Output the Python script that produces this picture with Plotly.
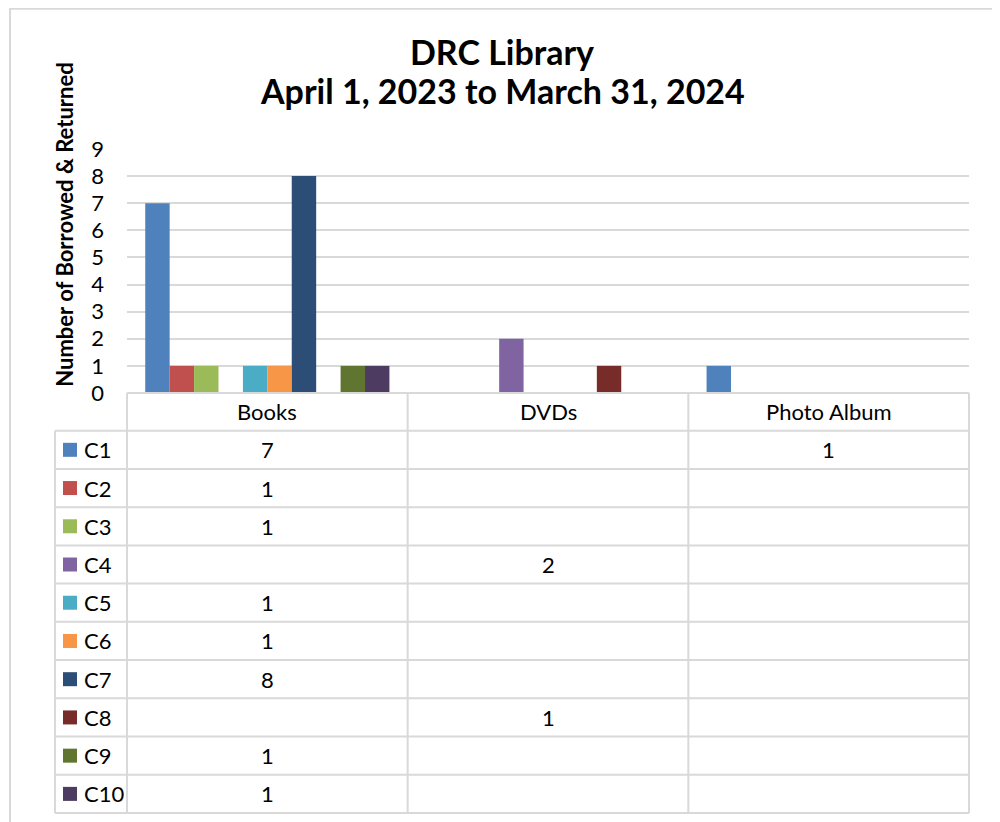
import plotly.graph_objects as go

# ---- data ----
categories = ["Books", "DVDs", "Photo Album"]
series_names = ["C1", "C2", "C3", "C4", "C5", "C6", "C7", "C8", "C9", "C10"]
C1 = [7, None, 1]
C2 = [1, None, None]
C3 = [1, None, None]
C4 = [None, 2, None]
C5 = [1, None, None]
C6 = [1, None, None]
C7 = [8, None, None]
C8 = [None, 1, None]
C9 = [1, None, None]
C10 = [1, None, None]
series_values = [C1, C2, C3, C4, C5, C6, C7, C8, C9, C10]
colors = ["#4F81BD", "#C0504D", "#9BBB59", "#8064A2", "#4BACC6",
          "#F79646", "#2C4D75", "#772C2A", "#5F7530", "#4D3B62"]
y_ticks = [0, 1, 2, 3, 4, 5, 6, 7, 8, 9]
title_lines = ["DRC Library", "April 1, 2023 to March 31, 2024"]
y_title = "Number of Borrowed & Returned"

FONT = "Lato, 'Open Sans', sans-serif"
OFF = 8                  # page body margin
W, H = 1000 - OFF, 822 - OFF
# screen-pixel geometry (converted to figure px by subtracting OFF)
L, R = 127 - OFF, 969 - OFF
T, B = 149.3 - OFF, 393.3 - OFF
GRID = "#d9d9d9"

def xp(sx):
    return (sx - OFF - L) / (R - L)

def yp(sy):
    return (B - (sy - OFF)) / (B - T)

fig = go.Figure()
for name, vals, col in zip(series_names, series_values, colors):
    fig.add_trace(go.Bar(name=name, x=categories, y=vals, marker_color=col,
                         marker_line_width=0))

shapes = []
annotations = []

# outer chart border
shapes.append(dict(type="rect", xref="paper", yref="paper",
                   x0=xp(10), x1=xp(995), y0=yp(840), y1=yp(9),
                   line=dict(color=GRID, width=2), layer="below"))

# data table geometry (screen px)
SL, SR, SB = 127, 969, 393.3
col_edges = [SL + i * (SR - SL) / 3 for i in range(4)]
header_top, header_bot = SB, 431.0
table_bot = 813.3
row_h = (table_bot - header_bot) / len(series_names)
left_col = 55

shapes.append(dict(type="line", xref="paper", yref="paper",
                   x0=xp(SL), x1=xp(SR), y0=yp(header_top), y1=yp(header_top),
                   line=dict(color=GRID, width=2)))
for i in range(len(series_names) + 1):
    yy = header_bot + i * row_h
    shapes.append(dict(type="line", xref="paper", yref="paper",
                       x0=xp(left_col), x1=xp(SR), y0=yp(yy), y1=yp(yy),
                       line=dict(color=GRID, width=2)))
for ce in col_edges:
    shapes.append(dict(type="line", xref="paper", yref="paper",
                       x0=xp(ce), x1=xp(ce), y0=yp(header_top), y1=yp(table_bot),
                       line=dict(color=GRID, width=2)))
shapes.append(dict(type="line", xref="paper", yref="paper",
                   x0=xp(left_col), x1=xp(left_col), y0=yp(header_bot), y1=yp(table_bot),
                   line=dict(color=GRID, width=2)))

TBL_SIZE = 22
for j, cat in enumerate(categories):
    cx = (col_edges[j] + col_edges[j + 1]) / 2
    annotations.append(dict(x=xp(cx), y=yp((header_top + header_bot) / 2),
                            xref="paper", yref="paper", text=cat, showarrow=False,
                            font=dict(family=FONT, size=TBL_SIZE, color="#000000"),
                            xanchor="center", yanchor="middle"))

for i, (name, vals, col) in enumerate(zip(series_names, series_values, colors)):
    cy = header_bot + (i + 0.5) * row_h
    shapes.append(dict(type="rect", xref="paper", yref="paper",
                       x0=xp(63), x1=xp(77), y0=yp(cy + 7), y1=yp(cy - 7),
                       fillcolor=col, line=dict(width=0)))
    annotations.append(dict(x=xp(82), y=yp(cy), xref="paper", yref="paper",
                            text=name, showarrow=False,
                            font=dict(family=FONT, size=TBL_SIZE, color="#000000"),
                            xanchor="left", yanchor="middle"))
    for j, v in enumerate(vals):
        if v is None:
            continue
        cx = (col_edges[j] + col_edges[j + 1]) / 2
        annotations.append(dict(x=xp(cx), y=yp(cy), xref="paper", yref="paper",
                                text=str(v), showarrow=False,
                                font=dict(family=FONT, size=TBL_SIZE, color="#000000"),
                                xanchor="center", yanchor="middle"))

annotations.append(dict(x=xp(502), y=yp(52), xref="paper", yref="paper",
                        text="<b>" + title_lines[0] + "</b>", showarrow=False,
                        font=dict(family=FONT, size=34, color="#000000"),
                        xanchor="center", yanchor="middle"))
annotations.append(dict(x=xp(502), y=yp(91), xref="paper", yref="paper",
                        text="<b>" + title_lines[1] + "</b>", showarrow=False,
                        font=dict(family=FONT, size=34, color="#000000"),
                        xanchor="center", yanchor="middle"))
annotations.append(dict(x=xp(65), y=yp(225), xref="paper", yref="paper",
                        text="<b>" + y_title + "</b>", showarrow=False, textangle=-90,
                        font=dict(family=FONT, size=22, color="#000000"),
                        xanchor="center", yanchor="middle"))

fig.update_layout(
    width=W, height=H,
    margin=dict(l=L, r=W - R, t=T, b=H - B, pad=0),
    paper_bgcolor="white", plot_bgcolor="white",
    barmode="group", bargap=0.13, bargroupgap=0,
    showlegend=False,
    shapes=shapes, annotations=annotations,
    font=dict(family=FONT, color="#000000"),
)
fig.update_xaxes(showticklabels=False, showgrid=False, zeroline=False,
                 showline=False, ticks="")
fig.update_yaxes(range=[0, 9], tickvals=y_ticks, showgrid=True, gridcolor=GRID,
                 gridwidth=2, zeroline=False, showline=False, ticks="",
                 ticklabelstandoff=22,
                 tickfont=dict(family=FONT, size=22, color="#000000"))

fig.write_html("out.html")
